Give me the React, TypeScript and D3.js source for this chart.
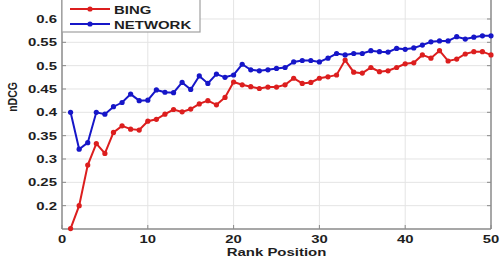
import React from "react";
import * as d3 from "d3";

const ranks: number[] = d3.range(1, 51);
const bing: number[] = [
  0.151, 0.2, 0.287, 0.333, 0.312, 0.357, 0.371, 0.364, 0.362, 0.381,
  0.385, 0.396, 0.406, 0.401, 0.407, 0.418, 0.425, 0.416, 0.432, 0.465,
  0.459, 0.455, 0.451, 0.454, 0.454, 0.459, 0.473, 0.462, 0.464, 0.473,
  0.476, 0.48, 0.512, 0.486, 0.484, 0.496, 0.487, 0.489, 0.496, 0.504,
  0.506, 0.523, 0.516, 0.532, 0.51, 0.514, 0.525, 0.53, 0.53, 0.523,
];
const network: number[] = [
  0.4, 0.321, 0.335, 0.4, 0.396, 0.412, 0.421, 0.439, 0.425, 0.426,
  0.448, 0.443, 0.442, 0.464, 0.449, 0.478, 0.462, 0.482, 0.475, 0.48,
  0.503, 0.491, 0.489, 0.491, 0.494, 0.496, 0.508, 0.511, 0.511, 0.508,
  0.516, 0.526, 0.523, 0.526, 0.526, 0.532, 0.53, 0.529, 0.537, 0.535,
  0.538, 0.544, 0.551, 0.553, 0.553, 0.562, 0.557, 0.561, 0.564, 0.564,
];
const xTicks: number[] = [0, 10, 20, 30, 40, 50];
const yTicks: number[] = [0.2, 0.25, 0.3, 0.35, 0.4, 0.45, 0.5, 0.55, 0.6];
const seriesNames: string[] = ["BING", "NETWORK"];
const seriesColors: string[] = ["#dc1e1e", "#1616c8"];

const W = 503;
const H = 277;
const L = 62;
const R = 491;
const B = 229;
const FONT = "'Liberation Sans', Arial, sans-serif";

export default function App() {
  const x = d3.scaleLinear().domain([0, 50]).range([L, R]);
  const y = d3.scaleLinear().domain([0.15, 0.65]).range([B, B - 0.5 * 466.7]);
  const line = d3
    .line<[number, number]>()
    .x((d) => x(d[0]))
    .y((d) => y(d[1]));
  const series = [bing, network].map((vals) =>
    ranks.map((r, i) => [r, vals[i]] as [number, number])
  );
  const T = (props: any) => {
    const { x: tx, y: ty, rot, sx = 1.3, children, ...rest } = props;
    return (
      <text
        transform={`translate(${tx},${ty}) scale(${sx},1)${rot ? " rotate(-90)" : ""}`}
        fontFamily={FONT}
        fontWeight="bold"
        fill="#1e1e1e"
        {...rest}
      >
        {children}
      </text>
    );
  };
  return (
    <svg
      width={W}
      height={H}
      style={{ position: "absolute", left: 0, top: 0, background: "#fff" }}
    >
      <rect x={0} y={0} width={W} height={H} fill="#fff" />
      {/* grid */}
      {yTicks.map((t) => (
        <line key={"gy" + t} x1={L} x2={R} y1={y(t)} y2={y(t)} stroke="#e4e4e4" strokeWidth={1} />
      ))}
      {xTicks.slice(1, -1).map((t) => (
        <line key={"gx" + t} x1={x(t)} x2={x(t)} y1={y(0.65)} y2={B} stroke="#e4e4e4" strokeWidth={1} />
      ))}
      {/* axes */}
      <line x1={L} x2={L} y1={y(0.65)} y2={B} stroke="#8a8a8a" strokeWidth={1.5} />
      <line x1={R} x2={R} y1={y(0.65)} y2={B} stroke="#8a8a8a" strokeWidth={1.5} />
      <line x1={L} x2={R} y1={B} y2={B} stroke="#8a8a8a" strokeWidth={1.5} />
      {yTicks.map((t) => (
        <g key={"ty" + t}>
          <line x1={L} x2={L + 4} y1={y(t)} y2={y(t)} stroke="#8a8a8a" />
          <line x1={R - 4} x2={R} y1={y(t)} y2={y(t)} stroke="#8a8a8a" />
          <T x={57} y={y(t) + 4} fontSize={11.5} textAnchor="end">
            {String(t)}
          </T>
        </g>
      ))}
      {xTicks.map((t) => (
        <g key={"tx" + t}>
          <line x1={x(t)} x2={x(t)} y1={B} y2={B - 4} stroke="#8a8a8a" />
          <T x={x(t)} y={242.5} fontSize={11} sx={1.35} textAnchor="middle">
            {String(t)}
          </T>
        </g>
      ))}
      <T x={276.5} y={255.5} fontSize={11} sx={1.36} textAnchor="middle">
        Rank Position
      </T>
      <T x={16.5} y={97} fontSize={10.5} textAnchor="middle" rot>
        nDCG
      </T>
      {/* series */}
      {series.map((pts, si) => (
        <g key={"s" + si}>
          <path d={line(pts) || ""} fill="none" stroke={seriesColors[si]} strokeWidth={2} />
          {pts.map((p, i) => (
            <circle key={i} cx={x(p[0])} cy={y(p[1])} r={2.6} fill={seriesColors[si]} />
          ))}
        </g>
      ))}
      {/* legend */}
      <rect x={L} y={-5} width={138} height={37} fill="#fff" stroke="#a0a0a0" strokeWidth={1.2} />
      {seriesNames.map((n, i) => {
        const ly = 9 + i * 15;
        return (
          <g key={"lg" + n}>
            <line x1={70} x2={110} y1={ly} y2={ly} stroke={seriesColors[i]} strokeWidth={2} />
            <circle cx={90} cy={ly} r={2.6} fill={seriesColors[i]} />
            <T x={114} y={ly + 4.5} fontSize={11.5}>
              {n}
            </T>
          </g>
        );
      })}
    </svg>
  );
}
